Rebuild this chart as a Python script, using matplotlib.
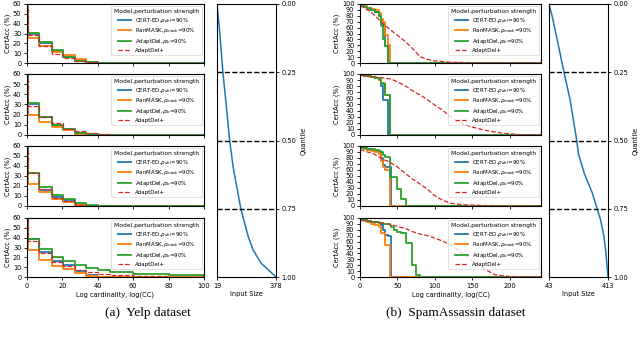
import matplotlib
matplotlib.use('Agg')
import matplotlib.pyplot as plt
import numpy as np

# ---- data ----
models = ['CERT-ED,$\\rho_{del}$=90%', 'RanMASK,$\\rho_{mask}$=90%',
          'AdaptDel,$\\rho_{lb}$=90%', 'AdaptDel+']
colors = ['tab:blue', 'tab:orange', 'tab:green', 'tab:red']

# Yelp: log cardinality breakpoints, values hold until next breakpoint
yelp_cc = [0, 0.7, 7, 14, 20.5, 27, 33.5, 40, 47, 60, 80, 100]
yelp_q1_cert = [55, 30, 20, 12, 6, 2, 0.5, 0.3, 0.1, 0, 0, 0]
yelp_q1_mask = [50, 25, 17, 11, 8, 4, 1, 0.3, 0, 0, 0, 0]
yelp_q1_adapt = [58, 31, 21, 13, 6, 2, 0.8, 0.3, 0.1, 0.1, 0, 0]
yelp_q1_plus = [55, 28, 17, 9, 5, 2, 1, 0.5, 0.2, 0, 0, 0]
yelp_q2_cert = [58, 30, 18, 10, 6, 2, 0.5, 0, 0, 0, 0, 0]
yelp_q2_mask = [50, 20, 13, 8, 5, 1, 0.3, 0, 0, 0, 0, 0]
yelp_q2_adapt = [60, 31, 18, 10, 6, 1.5, 0.5, 0, 0, 0, 0, 0]
yelp_q2_plus = [55, 29, 18, 12, 6, 4, 2, 1, 0.3, 0, 0, 0]
yelp_q3_cert = [58, 33, 16, 9, 6, 2, 0.5, 0, 0, 0, 0, 0]
yelp_q3_mask = [50, 22, 14, 7, 4, 1, 0, 0, 0, 0, 0, 0]
yelp_q3_adapt = [58, 33, 19, 11, 7, 3, 1, 0.5, 0.2, 0, 0, 0]
yelp_q3_plus = [55, 33, 17, 8, 5, 1.5, 0.5, 0, 0, 0, 0, 0]
yelp_q4_cert = [60, 39, 25, 16, 12, 6, 2, 0.5, 0.2, 0, 0, 0]
yelp_q4_mask = [50, 27, 17, 11, 8, 4, 1.5, 0.5, 0, 0, 0, 0]
yelp_q4_adapt = [60, 39, 28, 20, 16, 12, 9, 7, 5, 3.5, 2.5, 1.5]
yelp_q4_plus = [58, 37, 24, 15, 11, 7, 5, 3, 2, 1, 0.5, 0.3]

# SpamAssassin
spam_cc = [0, 5, 10, 15, 20, 25, 28, 31, 34, 37, 40, 42, 45, 50, 55, 58, 61, 65, 68, 70,
           75, 80, 90, 100, 110, 120, 130, 140, 150, 160, 170, 180, 190, 200, 215, 230, 242]
spam_q1_cert = [97, 95, 92, 90, 86, 80, 68, 62, 28] + [0] * 28
spam_q1_mask = [97, 96, 94, 92, 90, 85, 75, 70, 48, 30] + [0] * 27
spam_q1_adapt = [97, 95, 93, 90, 87, 80, 62, 40, 28] + [0] * 28
spam_q1_plus = [97, 94, 90, 86, 80, 74, 70, 66, 63, 60, 57, 55, 52, 47, 42, 39, 36, 31, 27, 25,
                18, 11, 6, 3.5, 2.5, 1.5, 1, 0.6, 0.4, 0.2, 0.1, 0, 0, 0, 0, 0, 0]
spam_q2_cert = [98, 97, 96, 95, 94, 90, 80, 58, 57] + [0] * 28
spam_q2_mask = [98, 97, 96, 95, 93, 90, 86, 85, 66, 66] + [0] * 27
spam_q2_adapt = [98, 97, 96, 95, 94, 92, 86, 84, 66, 66] + [0] * 27
spam_q2_plus = [98, 97, 96, 95.5, 95, 94.5, 94, 93.5, 93, 92.5, 92, 91, 90, 87, 84, 82, 80, 77, 74, 73,
                69, 66, 58, 49, 41, 31, 22, 17, 13, 10, 7, 5, 3, 2, 0.5, 0, 0]
spam_q3_cert = [97, 96, 95, 94, 92, 90, 80, 68, 65, 65, 65] + [0] * 26
spam_q3_mask = [96, 95, 94, 92, 90, 86, 75, 65, 60, 60] + [0] * 27
spam_q3_adapt = [97, 96, 95, 95, 94, 92, 90, 85, 82, 82, 49, 49, 49, 28, 11, 11] + [0] * 21
spam_q3_plus = [94, 92, 90, 88, 86, 82, 80, 78, 76, 75, 73, 71, 69, 65, 60, 57, 54, 50, 47, 45,
                41, 37, 28, 17, 10, 5, 3, 2, 1.5, 1, 0.5, 0.2, 0, 0, 0, 0, 0]
spam_q4_cert = [97, 96, 95, 94, 93, 91, 88, 80, 72, 70, 70] + [0] * 26
spam_q4_mask = [96, 95, 93, 90, 88, 85, 75, 75, 55, 55] + [0] * 27
spam_q4_adapt = [97, 96, 95, 94, 93, 92, 91, 90, 90, 89, 88, 85, 80, 76, 75, 75, 58, 58, 58, 20,
                 3, 0.5] + [0] * 15
spam_q4_plus = [96, 95.5, 95, 94, 93, 92, 91.5, 91, 90.5, 90, 89, 88.5, 87.5, 86, 84, 83, 82, 80, 78, 77,
                75, 73, 70, 66, 61, 55, 47, 37, 28, 19, 11, 4, 2, 1, 0.3, 0, 0]

# input size per quantile
yelp_quantile = [0, 0.05, 0.1, 0.25, 0.4, 0.5, 0.6, 0.75, 0.85, 0.9, 0.95, 0.97, 1.0]
yelp_size = [19, 27, 35, 55, 80, 96, 118, 164, 208, 238, 288, 325, 378]
spam_quantile = [0, 0.05, 0.13, 0.25, 0.35, 0.5, 0.55, 0.62, 0.69, 0.75, 0.79, 0.85, 0.91, 0.95, 1.0]
spam_size = [43, 65, 94, 137, 175, 217, 228, 264, 313, 345, 366, 387, 400, 405, 413]

yelp_panels = [
    [yelp_q1_cert, yelp_q1_mask, yelp_q1_adapt, yelp_q1_plus],
    [yelp_q2_cert, yelp_q2_mask, yelp_q2_adapt, yelp_q2_plus],
    [yelp_q3_cert, yelp_q3_mask, yelp_q3_adapt, yelp_q3_plus],
    [yelp_q4_cert, yelp_q4_mask, yelp_q4_adapt, yelp_q4_plus],
]
spam_panels = [
    [spam_q1_cert, spam_q1_mask, spam_q1_adapt, spam_q1_plus],
    [spam_q2_cert, spam_q2_mask, spam_q2_adapt, spam_q2_plus],
    [spam_q3_cert, spam_q3_mask, spam_q3_adapt, spam_q3_plus],
    [spam_q4_cert, spam_q4_mask, spam_q4_adapt, spam_q4_plus],
]

W, H = 640, 338
fig = plt.figure(figsize=(6.4, 3.38), dpi=100)
plt.rcParams['font.size'] = 5
FS = 4.8


def px_axes(left, right, top, bottom):
    return fig.add_axes([left / W, 1 - bottom / H, (right - left) / W, (bottom - top) / H])


def style(ax):
    ax.tick_params(labelsize=FS, length=2.5, width=0.6, pad=1.5)
    for s in ax.spines.values():
        s.set_linewidth(0.8)


panel_rows = [(4, 63), (74, 135), (146, 206), (218, 277)]


def draw_group(x0, x1, qx0, qx1, cc, panels, ymax, xmax, xticks, quant, size, smooth_plus):
    for i, (top, bot) in enumerate(panel_rows):
        ax = px_axes(x0, x1, top, bot)
        for j, vals in enumerate(panels[i]):
            if j == 3:
                ax.plot(cc, vals, color=colors[j], ls='--', lw=0.9,
                        drawstyle='default' if smooth_plus else 'steps-post', label=models[j])
            else:
                ax.plot(cc, vals, color=colors[j], lw=1.3, drawstyle='steps-post', label=models[j])
        ax.set_xlim(0, xmax)
        ax.set_ylim(0, ymax)
        ax.set_yticks(np.arange(0, ymax + 1, 10))
        ax.set_xticks(xticks)
        if i < 3:
            ax.set_xticklabels([])
        else:
            ax.set_xlabel('Log cardinality, log(CC)', fontsize=FS, labelpad=2)
        ax.set_ylabel('CertAcc (%)', fontsize=FS, labelpad=1.5)
        style(ax)
        leg = ax.legend(loc='upper right', title='Model,perturbation strength', fontsize=4.0,
                        title_fontsize=4.3, handlelength=2.4, borderpad=0.5, labelspacing=0.3,
                        handletextpad=0.6, framealpha=0.8, borderaxespad=0.4)
        leg.get_frame().set_linewidth(0.5)

    qa = px_axes(qx0, qx1, 4, 277)
    qa.plot(size, quant, color='tab:blue', lw=1.1)
    for q in [0.25, 0.5, 0.75]:
        qa.axhline(q, color='black', ls='--', lw=1.0)
    qa.set_ylim(1, 0)
    qa.set_xlim(size[0], size[-1])
    qa.set_xticks([size[0], size[-1]])
    qa.set_yticks([0, 0.25, 0.5, 0.75, 1.0])
    qa.set_yticklabels(['0.00', '0.25', '0.50', '0.75', '1.00'])
    qa.yaxis.tick_right()
    qa.yaxis.set_label_position('right')
    qa.set_ylabel('Quantile', fontsize=FS, labelpad=3)
    qa.set_xlabel('Input Size', fontsize=FS, labelpad=2)
    style(qa)


draw_group(27, 204, 217, 276, yelp_cc, yelp_panels, 60, 100, [0, 20, 40, 60, 80, 100],
           yelp_quantile, yelp_size, False)
draw_group(360, 541, 549, 608, spam_cc, spam_panels, 100, 242, [0, 50, 100, 150, 200],
           spam_quantile, spam_size, True)

fig.text(148 / W, 1 - 313 / H, '(a)  Yelp dataset', ha='center', va='center',
         fontsize=9.5, family='Liberation Serif')
fig.text(456 / W, 1 - 313 / H, '(b)  SpamAssassin dataset', ha='center', va='center',
         fontsize=9.5, family='Liberation Serif')

fig.savefig('out.png', dpi=100)
